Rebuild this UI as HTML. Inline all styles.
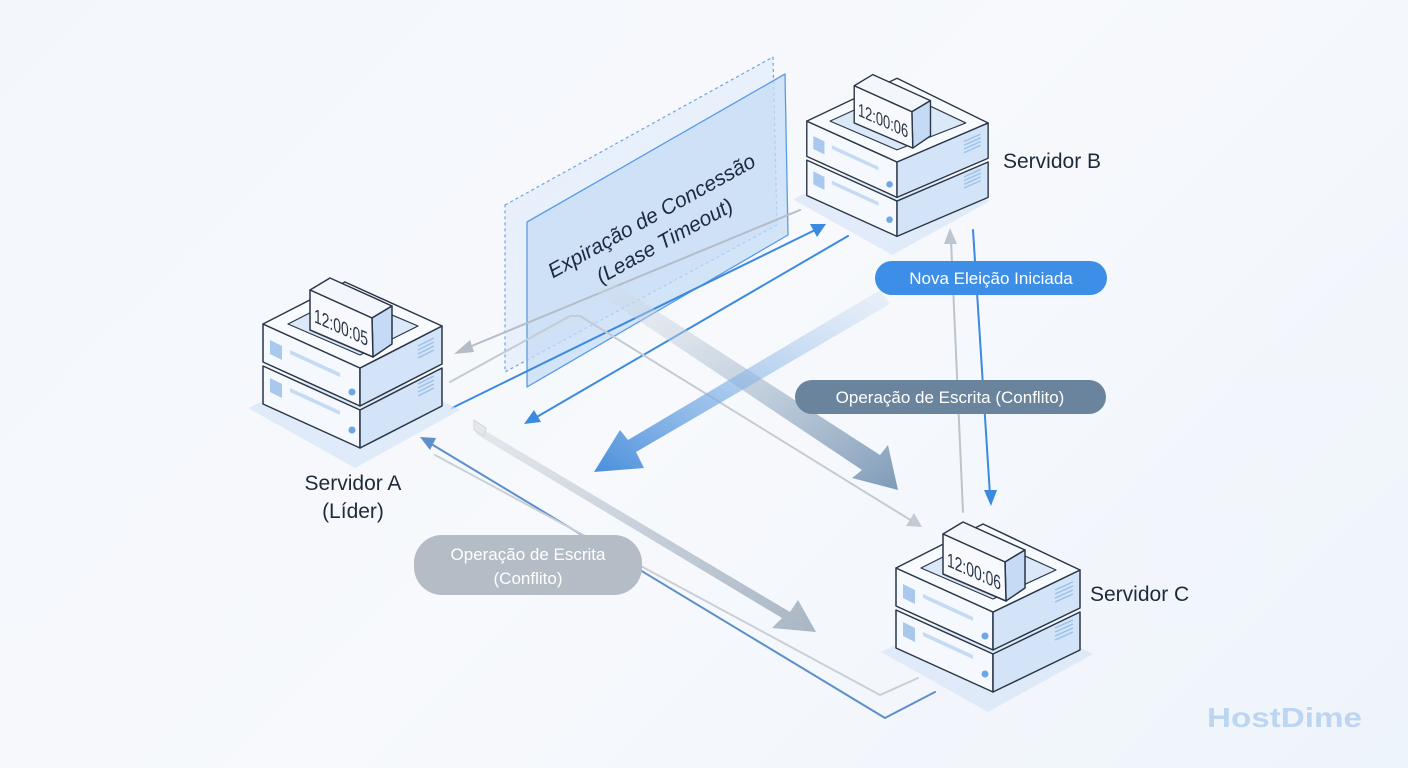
<!DOCTYPE html>
<html><head><meta charset="utf-8"><style>
html,body{margin:0;padding:0;}
body{width:1408px;height:768px;overflow:hidden;background:linear-gradient(135deg,#f3f7fc 0%,#f7f9fc 50%,#eef4fb 100%);font-family:"Liberation Sans",sans-serif;}
svg{display:block}
</style></head><body>
<svg width="1408" height="768" viewBox="0 0 1408 768" xmlns="http://www.w3.org/2000/svg">
<defs>
<linearGradient id="g1" x1="0" y1="0" x2="1" y2="1"><stop offset="0" stop-color="#d6dde6" stop-opacity="0.3"/><stop offset="1" stop-color="#7f9bb8"/></linearGradient>
<linearGradient id="g2" x1="1" y1="0" x2="0" y2="1"><stop offset="0" stop-color="#c9dcf2" stop-opacity="0.3"/><stop offset="1" stop-color="#4a8fdc"/></linearGradient>
<linearGradient id="g3" x1="0" y1="0" x2="1" y2="1"><stop offset="0" stop-color="#e6eaef"/><stop offset="1" stop-color="#a9b6c4"/></linearGradient>
</defs>

<!-- Lease panel -->
<polygon points="505,205 773,57 777,225 505,372" fill="#dfeafa" fill-opacity="0.6" stroke="#6ea3e0" stroke-width="1.2" stroke-dasharray="3,3" stroke-linejoin="round"/>
<polygon points="527,222 785,74 788,235 527,387" fill="#c6dcf6" fill-opacity="0.75" stroke="#5b9be4" stroke-width="1.3" stroke-linejoin="round"/>
<text transform="translate(655,222) rotate(-29)" text-anchor="middle" font-size="21" font-style="italic" fill="#1e2a3b">Expiração de Concessão</text>
<text transform="translate(668,247) rotate(-29)" text-anchor="middle" font-size="21" font-style="italic" fill="#1e2a3b">(Lease Timeout)</text>

<!-- connectors -->
<g fill="none" stroke-linecap="round" stroke-linejoin="round">
<line x1="800" y1="210" x2="462" y2="350" stroke="#b4bcc7" stroke-width="2"/>
<line x1="452" y1="408" x2="815" y2="230" stroke="#3b8ae0" stroke-width="2"/>
<line x1="848" y1="236" x2="535" y2="418" stroke="#3b8ae0" stroke-width="2"/>
<polyline points="450,382 570,316 580,316 912,521" stroke="#c4cbd4" stroke-width="2"/>
<polyline points="885,718 428,442" stroke="#5e8fca" stroke-width="2"/>
<polyline points="885,718 935,692" stroke="#5e8fca" stroke-width="2"/>
<polyline points="435,455 880,695 918,678" stroke="#c9d0d8" stroke-width="2"/>
<line x1="973" y1="230" x2="990" y2="495" stroke="#3b8ae0" stroke-width="2"/>
<line x1="963" y1="512" x2="951" y2="240" stroke="#bcc4cd" stroke-width="2"/>
</g>
<polygon points="454,354 470,340 474,352" fill="#b4bcc7"/>
<polygon points="826,224 810,224 817,237" fill="#3b8ae0"/>
<polygon points="524,424 534,410 541,422" fill="#3b8ae0"/>
<polygon points="922,527 906,526 914,513" fill="#c4cbd4"/>
<polygon points="420,437 436,438 430,450" fill="#5e8fca"/>
<polygon points="991,506 984,490 997,490" fill="#3b8ae0"/>
<polygon points="950,228 944,244 957,244" fill="#bcc4cd"/>

<!-- thick arrows -->
<polygon points="596,292 612,282 880,455 888,445 898,490 852,478 862,470" fill="url(#g1)"/>
<polygon points="880,290 890,304 636,452 644,468 594,472 620,430 628,440" fill="url(#g2)"/>
<polygon points="476,422 484,430 790,612 798,600 816,632 772,628 782,618 476,434" fill="url(#g3)"/>
<polygon points="474,420 486,428 484,436 474,430" fill="#e4e8ed" stroke="#d0d6dd"/>

<!-- Server A -->
<g transform="translate(360,368)">
<polygon points="-112,40 -5,-10 100,42 -5,100" fill="#d7e6f8" opacity="0.7"/>
<g stroke="#2b3647" stroke-width="1.5" stroke-linejoin="round">
<polygon points="-97,-2 0,42 0,80 -97,36" fill="#f5f8fc"/>
<polygon points="0,42 82,0 82,38 0,80" fill="#d3e4f8"/>
<polygon points="-97,-44 0,0 0,38 -97,-6" fill="#f5f8fc"/>
<polygon points="0,0 82,-42 82,-4 0,38" fill="#d3e4f8"/>
<polygon points="-97,-44 -15,-86 82,-42 0,0" fill="#f8fbfe"/>
<polygon points="-72,-44 -15,-73 58,-42 0,-13" fill="#dbe8f8" stroke-width="1.2"/>
</g>
<polygon points="-90,-28 -78,-22 -78,-8 -90,-14" fill="#a9c8ee"/>
<polygon points="-70,-18 -20,5 -20,9 -70,-14" fill="#c5daf3"/>
<polygon points="-90,10 -78,16 -78,30 -90,24" fill="#a9c8ee"/>
<polygon points="-70,20 -20,43 -20,47 -70,24" fill="#c5daf3"/>
<circle cx="-8" cy="24" r="3.5" fill="#6ea6e6"/><circle cx="-8" cy="62" r="3.5" fill="#6ea6e6"/>
<g stroke="#9cc1ea" stroke-width="1.5"><line x1="58" y1="-22" x2="74" y2="-30"/><line x1="58" y1="-18" x2="74" y2="-26"/><line x1="58" y1="-14" x2="74" y2="-22"/><line x1="58" y1="-10" x2="74" y2="-18"/>
<line x1="58" y1="16" x2="74" y2="8"/><line x1="58" y1="20" x2="74" y2="12"/><line x1="58" y1="24" x2="74" y2="16"/><line x1="58" y1="28" x2="74" y2="20"/></g>
<g stroke="#2b3647" stroke-width="1.5" stroke-linejoin="round">
<polygon points="-50,-78 -30,-90 32,-62 12,-50" fill="#f3f7fc"/>
<polygon points="12,-50 32,-62 32,-24 13,-11" fill="#c5dbf5"/>
<polygon points="-50,-78 12,-50 13,-11 -50,-38" fill="#f7f9fc"/>
</g>
<text transform="matrix(1,0.45,0,1,-46,-46)" font-family="Liberation Sans Narrow,Liberation Sans,sans-serif" font-size="20" textLength="54" lengthAdjust="spacingAndGlyphs" fill="#2b3647">12:00:05</text>
</g>

<!-- Server B -->
<g transform="translate(897,162) scale(0.93)">
<polygon points="-112,40 -5,-10 100,42 -5,100" fill="#d7e6f8" opacity="0.7"/>
<g stroke="#2b3647" stroke-width="1.5" stroke-linejoin="round">
<polygon points="-97,-2 0,42 0,80 -97,36" fill="#f5f8fc"/>
<polygon points="0,42 98,0 98,38 0,80" fill="#d3e4f8"/>
<polygon points="-97,-44 0,0 0,38 -97,-6" fill="#f5f8fc"/>
<polygon points="0,0 98,-42 98,-4 0,38" fill="#d3e4f8"/>
<polygon points="-97,-44 0,-90 98,-42 0,0" fill="#f8fbfe"/>
<polygon points="-72,-44 0,-77 74,-42 0,-13" fill="#dbe8f8" stroke-width="1.2"/>
</g>
<polygon points="-90,-28 -78,-22 -78,-8 -90,-14" fill="#a9c8ee"/>
<polygon points="-70,-18 -20,5 -20,9 -70,-14" fill="#c5daf3"/>
<polygon points="-90,10 -78,16 -78,30 -90,24" fill="#a9c8ee"/>
<polygon points="-70,20 -20,43 -20,47 -70,24" fill="#c5daf3"/>
<circle cx="-8" cy="24" r="3.5" fill="#6ea6e6"/><circle cx="-8" cy="62" r="3.5" fill="#6ea6e6"/>
<g stroke="#9cc1ea" stroke-width="1.5"><line x1="72" y1="-22" x2="90" y2="-30"/><line x1="72" y1="-18" x2="90" y2="-26"/><line x1="72" y1="-14" x2="90" y2="-22"/><line x1="72" y1="-10" x2="90" y2="-18"/>
<line x1="72" y1="16" x2="90" y2="8"/><line x1="72" y1="20" x2="90" y2="12"/><line x1="72" y1="24" x2="90" y2="16"/><line x1="72" y1="28" x2="90" y2="20"/></g>
<g stroke="#2b3647" stroke-width="1.5" stroke-linejoin="round">
<polygon points="-46,-82 -26,-94 36,-66 16,-54" fill="#f3f7fc"/>
<polygon points="16,-54 36,-66 36,-28 17,-15" fill="#c5dbf5"/>
<polygon points="-46,-82 16,-54 17,-15 -46,-42" fill="#f7f9fc"/>
</g>
<text transform="matrix(1,0.45,0,1,-42,-50)" font-family="Liberation Sans Narrow,Liberation Sans,sans-serif" font-size="20" textLength="54" lengthAdjust="spacingAndGlyphs" fill="#2b3647">12:00:06</text>
</g>

<!-- Server C -->
<g transform="translate(993,612)">
<polygon points="-112,40 -5,-10 100,42 -5,100" fill="#d7e6f8" opacity="0.7"/>
<g stroke="#2b3647" stroke-width="1.5" stroke-linejoin="round">
<polygon points="-97,-2 0,42 0,80 -97,36" fill="#f5f8fc"/>
<polygon points="0,42 87,0 87,38 0,80" fill="#d3e4f8"/>
<polygon points="-97,-44 0,0 0,38 -97,-6" fill="#f5f8fc"/>
<polygon points="0,0 87,-42 87,-4 0,38" fill="#d3e4f8"/>
<polygon points="-97,-44 -10,-88 87,-42 0,0" fill="#f8fbfe"/>
<polygon points="-72,-44 -10,-75 63,-42 0,-13" fill="#dbe8f8" stroke-width="1.2"/>
</g>
<polygon points="-90,-28 -78,-22 -78,-8 -90,-14" fill="#a9c8ee"/>
<polygon points="-70,-18 -20,5 -20,9 -70,-14" fill="#c5daf3"/>
<polygon points="-90,10 -78,16 -78,30 -90,24" fill="#a9c8ee"/>
<polygon points="-70,20 -20,43 -20,47 -70,24" fill="#c5daf3"/>
<circle cx="-8" cy="24" r="3.5" fill="#6ea6e6"/><circle cx="-8" cy="62" r="3.5" fill="#6ea6e6"/>
<g stroke="#9cc1ea" stroke-width="1.5"><line x1="62" y1="-22" x2="80" y2="-30"/><line x1="62" y1="-18" x2="80" y2="-26"/><line x1="62" y1="-14" x2="80" y2="-22"/><line x1="62" y1="-10" x2="80" y2="-18"/>
<line x1="62" y1="16" x2="80" y2="8"/><line x1="62" y1="20" x2="80" y2="12"/><line x1="62" y1="24" x2="80" y2="16"/><line x1="62" y1="28" x2="80" y2="20"/></g>
<g stroke="#2b3647" stroke-width="1.5" stroke-linejoin="round">
<polygon points="-50,-78 -30,-90 32,-62 12,-50" fill="#f3f7fc"/>
<polygon points="12,-50 32,-62 32,-24 13,-11" fill="#c5dbf5"/>
<polygon points="-50,-78 12,-50 13,-11 -50,-38" fill="#f7f9fc"/>
</g>
<text transform="matrix(1,0.45,0,1,-46,-46)" font-family="Liberation Sans Narrow,Liberation Sans,sans-serif" font-size="20" textLength="54" lengthAdjust="spacingAndGlyphs" fill="#2b3647">12:00:06</text>
</g>

<!-- labels -->
<g font-size="21" fill="#1e2a3b">
<text x="1003" y="168">Servidor B</text>
<text x="1090" y="601">Servidor C</text>
<text x="353" y="490" text-anchor="middle">Servidor A</text>
<text x="353" y="518" text-anchor="middle">(Líder)</text>
</g>
<rect x="875" y="261" width="232" height="34" rx="17" fill="#3d8ee6"/>
<text x="991" y="284" text-anchor="middle" font-size="17" fill="#fff">Nova Eleição Iniciada</text>
<rect x="795" y="380" width="311" height="34" rx="17" fill="#6b849e"/>
<text x="950" y="403" text-anchor="middle" font-size="17" fill="#fff">Operação de Escrita (Conflito)</text>
<rect x="414" y="535" width="228" height="60" rx="28" fill="#b4bcc6"/>
<text x="528" y="560" text-anchor="middle" font-size="17" fill="#fff">Operação de Escrita</text>
<text x="528" y="584" text-anchor="middle" font-size="17" fill="#fff">(Conflito)</text>
<text x="1207" y="727" font-size="28" font-weight="bold" fill="#bcd5f0" textLength="155" lengthAdjust="spacingAndGlyphs">HostDime</text>
</svg>
</body></html>
